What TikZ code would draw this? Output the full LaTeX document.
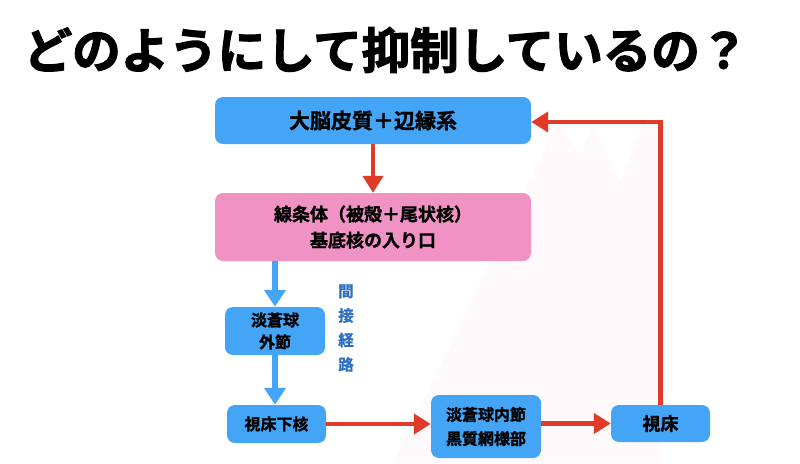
\documentclass[tikz,border=0pt]{standalone}
\usepackage{fontspec}
\setmainfont{Noto Sans CJK JP}[BoldFont={* Bold},BoldFeatures={FakeBold=1.2}]
\newfontfamily\heavy{Noto Sans CJK JP}[UprightFont={* Bold},UprightFeatures={FakeBold=2.5}]
\usetikzlibrary{arrows.meta,calc}
\definecolor{boxblue}{HTML}{44A5F6}
\definecolor{boxpink}{HTML}{F093C4}
\definecolor{arrred}{HTML}{E03B28}
\definecolor{txtblue}{HTML}{2E6FBF}
\definecolor{ghost}{HTML}{FEFAFC}
\begin{document}
\begin{tikzpicture}[x=1pt,y=-1pt,
  bluebox/.style={fill=boxblue,rounded corners=8pt,inner sep=0pt,align=center,font=\bfseries},
  pinkbox/.style={fill=boxpink,rounded corners=8pt,inner sep=0pt,align=center,font=\bfseries},
  redarrow/.style={draw=arrred,line width=4.5pt,-{Triangle[length=17pt,width=20pt]}},
  bluearrow/.style={draw=boxblue,line width=6.5pt,-{Triangle[length=17pt,width=21pt]}}]
\useasboundingbox (0,0) rectangle (800,463);
\fill[ghost] (393,463) -- (557,123) -- (580,153) -- (593,123) -- (620,183) -- (643,123) -- (658,123) -- (660,463) -- cycle;
\node[font=\heavy\fontsize{48.5}{52}\selectfont] (title) at (386,50) {どのようにして抑制しているの？};
\node[bluebox,minimum width=316pt,minimum height=47pt,font=\bfseries\fontsize{21}{22}\selectfont] (top) at (373,120.5) {大脳皮質＋辺縁系};
\node[pinkbox,minimum width=316pt,minimum height=68pt,font=\bfseries\fontsize{18}{26}\selectfont] (pink) at (373,227) {線条体（被殻＋尾状核）\\基底核の入り口};
\node[bluebox,minimum width=100pt,minimum height=48pt,font=\bfseries\fontsize{16}{22}\selectfont] (gpe) at (275,331) {淡蒼球\\外節};
\node[bluebox,minimum width=99pt,minimum height=38pt,font=\bfseries\fontsize{16}{20}\selectfont] (stn) at (276.5,424) {視床下核};
\node[bluebox,minimum width=110pt,minimum height=63pt,font=\bfseries\fontsize{16}{24}\selectfont] (gpi) at (486,426.5) {淡蒼球内節\\黒質網様部};
\node[bluebox,minimum width=99pt,minimum height=37pt,font=\bfseries\fontsize{18}{20}\selectfont] (thal) at (660.5,423.5) {視床};
\node[text=txtblue,align=center,font=\bfseries\fontsize{15.5}{24.5}\selectfont] (ind) at (346,328) {間\\接\\経\\路};
\draw[redarrow] (top.south) -- (pink.north);
\draw[bluearrow] (gpe.north |- pink.south) -- (gpe.north);
\draw[bluearrow] (gpe.south) -- (gpe.south |- stn.north);
\draw[redarrow] (stn.east) -- (stn.east -| gpi.west);
\draw[redarrow] (thal.west -| gpi.east) -- (thal.west);
\draw[redarrow] (thal.north) |- ($(top.east)+(0,1.5)$);
\end{tikzpicture}
\end{document}
